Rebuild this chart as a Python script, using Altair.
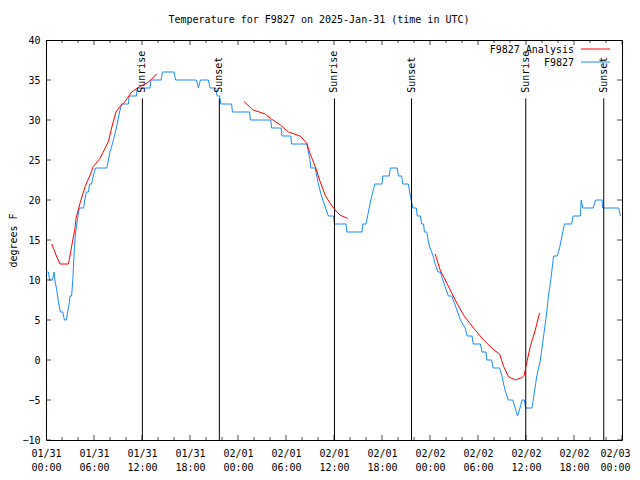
import json
import altair as alt
import pandas as pd

TITLE = "Temperature for F9827 on 2025-Jan-31 (time in UTC)"
Y_TITLE = "degrees F"
OBS_NAME = "F9827"
ANA_NAME = "F9827 Analysis"

# Observations (hours since 2025-01-31 00:00 UTC, degrees F)
OBS_HOURS = [0.0, 0.3, 0.45, 0.8, 1.0, 1.1, 1.3, 1.45, 1.6, 1.8, 2.1, 2.3, 2.55, 2.7, 2.9, 3.0, 3.2,
             3.35, 3.45, 3.55, 3.7, 3.85, 4.0, 4.15, 4.7, 4.85, 5.05, 5.3, 5.45, 5.7, 5.9, 6.2, 7.6,
             7.8, 8.0, 8.3, 8.55, 8.8, 9.0, 9.2, 9.45, 10.3, 10.4, 11.3, 11.4, 13.0, 13.1, 14.4,
             14.55, 16.0, 16.2, 18.8, 19.05, 19.3, 20.3, 20.5, 21.2, 21.4, 21.7, 21.85, 23.2, 23.3,
             25.45, 25.55, 28.1, 28.2, 29.4, 29.5, 30.6, 30.7, 32.6, 32.8, 33.0, 33.1, 33.65, 33.85,
             34.05, 34.3, 34.6, 34.95, 35.3, 35.4, 35.95, 36.05, 37.5, 37.6, 39.5, 39.6, 40.0, 40.2,
             40.4, 40.6, 40.85, 41.1, 42.0, 42.1, 42.9, 43.05, 43.9, 44.05, 44.45, 44.6, 45.3, 45.45,
             45.65, 45.85, 46.3, 46.4, 46.8, 46.95, 47.2, 47.3, 47.6, 47.75, 48.0, 48.4, 48.65, 49.0,
             49.3, 49.6, 49.95, 50.3, 50.7, 51.1, 51.45, 51.8, 52.4, 52.65, 53.25, 53.4, 54.3, 54.5,
             55.0, 55.1, 55.7, 55.9, 56.7, 57.0, 57.2, 57.45, 57.8, 58.35, 58.65, 58.95, 59.25, 59.5,
             59.8, 59.95, 60.75, 60.9, 61.05, 61.35, 61.8, 62.2, 62.6, 62.8, 63.1, 63.45, 63.9, 64.2,
             64.4, 64.6, 64.8, 65.7, 65.9, 66.8, 66.9, 67.1, 68.4, 68.7, 69.5, 69.6, 71.6, 71.8]
OBS_TEMPS = [11, 11, 10, 10, 11, 10, 9, 8, 7, 6, 6, 5, 5, 6, 7, 8, 8,
             10, 12, 14, 16, 17, 18, 19, 19, 20, 21, 21, 22, 22, 23, 24, 24,
             25, 26, 27, 28, 29, 30, 31, 32, 32, 33, 33, 34, 34, 35, 35,
             36, 36, 35, 35, 34, 35, 35, 34, 34, 33, 33, 32, 32, 31,
             31, 30, 30, 29, 29, 28, 28, 27, 27, 26, 25, 24, 24, 23,
             22, 21, 20, 19, 18, 18, 18, 17, 17, 16, 16, 17, 17, 18,
             19, 20, 21, 22, 22, 23, 23, 24, 24, 23, 23, 22, 22, 21,
             20, 19, 19, 18, 18, 17, 17, 16, 16, 15, 14, 13, 12, 11,
             11, 10, 9, 8, 8, 7, 6, 5, 4, 3, 3, 2, 2, 1,
             1, 0, 0, -1, -1, -2, -3, -4, -5, -5, -6, -7, -6, -5,
             -5, -6, -6, -5, -4, -2, 0, 3, 6, 8, 10, 13, 13, 14,
             15, 16, 17, 17, 18, 18, 20, 19, 19, 20, 20, 19, 19, 18]

# Analysis (three separate runs)
ANA_SEG = [1] * 24 + [2] * 16 + [3] * 18
ANA_HOURS = [0.71, 1.0, 1.3, 1.75, 2.8, 3.05, 3.35, 3.6, 3.75, 4.25, 4.9, 5.5, 5.92, 6.75, 7.8,
             8.2, 8.75, 9.25, 9.88, 10.7, 11.75, 12.6, 13.2, 13.85,
             24.76, 25.9, 27.4, 28.2, 29.27, 30.3, 31.77, 32.6, 33.0, 33.65, 34.27, 34.9, 35.5,
             36.15, 36.77, 37.7,
             48.65, 49.27, 50.1, 51.15, 52.2, 53.44, 54.7, 55.94, 56.7, 57.2, 57.82, 58.66, 59.5,
             59.78, 59.99, 60.54, 61.16, 61.7]
ANA_TEMPS = [14.5, 13.8, 13.0, 12.0, 12.0, 13.3, 15.0, 16.3, 17.7, 19.6, 21.7, 23.1, 24.2, 25.2,
             27.3, 29.0, 31.0, 31.7, 32.3, 33.5, 34.2, 34.6, 35.1, 35.8,
             32.3, 31.25, 30.75, 30.1, 29.4, 28.5, 28.0, 27.1, 25.8, 24.2, 22.3, 20.6, 19.6,
             18.75, 18.1, 17.7,
             13.25, 11.25, 9.6, 7.5, 5.6, 4.0, 2.5, 1.3, 0.75, -0.8, -2.1, -2.5, -2.2,
             -1.9, -0.8, 1.7, 3.75, 5.9]

SUN_HOURS = [12.05, 21.67, 36.06, 45.69, 59.97, 69.72]
SUN_LABELS = ["Sunrise", "Sunset", "Sunrise", "Sunset", "Sunrise", "Sunset"]
SUN_LINE_TOP = 32.7
SUN_TEXT_Y = 33.4

X_TICK_HOURS = list(range(0, 73, 6))
X_TICK_LABELS = [["01/31", "00:00"], ["01/31", "06:00"], ["01/31", "12:00"], ["01/31", "18:00"],
                 ["02/01", "00:00"], ["02/01", "06:00"], ["02/01", "12:00"], ["02/01", "18:00"],
                 ["02/02", "00:00"], ["02/02", "06:00"], ["02/02", "12:00"], ["02/02", "18:00"],
                 ["02/03", "00:00"]]
X_MINOR_HOURS = [h for h in range(0, 73, 2) if h % 6]
Y_TICKS = [-10, -5, 0, 5, 10, 15, 20, 25, 30, 35, 40]

RED = "#ff0000"
BLUE = "#1a8cff"
FONT = "DejaVu Sans Mono"
FS = 10

obs = pd.DataFrame({"h": OBS_HOURS, "t": OBS_TEMPS})
ana = pd.DataFrame({"h": ANA_HOURS, "t": ANA_TEMPS, "seg": ANA_SEG})
sun = pd.DataFrame({"h": SUN_HOURS, "label": SUN_LABELS})
xmaj = pd.DataFrame({"h": X_TICK_HOURS})
xmin = pd.DataFrame({"h": X_MINOR_HOURS})
yt = pd.DataFrame({"t": Y_TICKS})

label_expr = json.dumps(X_TICK_LABELS) + "[round(datum.value/6)]"
xs = alt.Scale(domain=[0, 72], nice=False, zero=False)
ys = alt.Scale(domain=[-10, 40], nice=False, zero=False)
x_axis = alt.Axis(values=X_TICK_HOURS, labelExpr=label_expr, title=None, labelPadding=8,
                  labelLineHeight=14, labelBaseline="top", labelOverlap=False,
                  labelFlush=False, labelBound=False,
                  labelOffset={"condition": {"test": "datum.value >= 72", "value": -7},
                               "value": 0})
y_axis = alt.Axis(values=Y_TICKS, title=Y_TITLE, labelPadding=6, titlePadding=3,
                  labelOverlap=False, labelFlush=False, labelBound=False)

X = alt.X("h:Q", scale=xs, axis=x_axis)
Y = alt.Y("t:Q", scale=ys, axis=y_axis)


def YD(v):
    return alt.YDatum(v, scale=ys, axis=y_axis, type="quantitative")


def XD(v):
    return alt.XDatum(v, scale=xs, axis=x_axis, type="quantitative")


blue_line = alt.Chart(obs).mark_line(color=BLUE, strokeWidth=1).encode(x=X, y=Y)
red_line = alt.Chart(ana).mark_line(color=RED, strokeWidth=1).encode(x=X, y=Y, detail="seg:N")

sun_rules = alt.Chart(sun).mark_rule(color="black", strokeWidth=1).encode(
    x=X, y=YD(SUN_LINE_TOP), y2=alt.datum(-10))
sun_text = alt.Chart(sun).mark_text(angle=270, align="left", baseline="middle", font=FONT,
                                    fontSize=FS, color="black").encode(
    x=X, y=YD(SUN_TEXT_Y), text="label:N")

tick_layers = []
for df, size in ((xmaj, 10), (xmin, 6)):
    for yv in (-10, 40):
        tick_layers.append(alt.Chart(df).mark_tick(orient="vertical", size=size, thickness=1,
                                                   color="black", clip=True).encode(
            x=X, y=YD(yv)))
for xv in (0, 72):
    tick_layers.append(alt.Chart(yt).mark_tick(orient="horizontal", size=10, thickness=1,
                                               color="black", clip=True).encode(
        x=XD(xv), y=Y))

leg_ana_txt = alt.Chart(pd.DataFrame({"label": [ANA_NAME]})).mark_text(
    align="right", baseline="middle", font=FONT, fontSize=FS, color="black").encode(
    x=alt.value(528), y=alt.value(10), text="label:N")
leg_obs_txt = alt.Chart(pd.DataFrame({"label": [OBS_NAME]})).mark_text(
    align="right", baseline="middle", font=FONT, fontSize=FS, color="black").encode(
    x=alt.value(528), y=alt.value(23), text="label:N")
leg_ana_line = alt.Chart(pd.DataFrame({"label": [ANA_NAME]})).mark_rule(
    color=RED, strokeWidth=1).encode(x=alt.value(535), x2=alt.value(564), y=alt.value(9))
leg_obs_line = alt.Chart(pd.DataFrame({"label": [OBS_NAME]})).mark_rule(
    color=BLUE, strokeWidth=1).encode(x=alt.value(535), x2=alt.value(564), y=alt.value(22))

chart = alt.layer(
    blue_line, sun_rules, sun_text, red_line, *tick_layers,
    leg_ana_txt, leg_obs_txt, leg_ana_line, leg_obs_line,
).properties(
    width=576, height=400,
    title=alt.Title(TITLE, font=FONT, fontSize=FS, fontWeight="normal", anchor="middle",
                    dx=-15, offset=10, color="black"),
    autosize=alt.AutoSizeParams(type="none"),
    padding={"left": 38, "top": 32, "right": 10, "bottom": 32},
    background="white",
).configure_axis(
    labelFont=FONT, labelFontSize=FS, labelColor="black",
    titleFont=FONT, titleFontSize=FS, titleFontWeight="normal", titleColor="black",
    grid=False, ticks=False, domain=False,
).configure_view(stroke="black", strokeWidth=1)

chart.save("out.html", embed_options={"renderer": "svg", "actions": False})
